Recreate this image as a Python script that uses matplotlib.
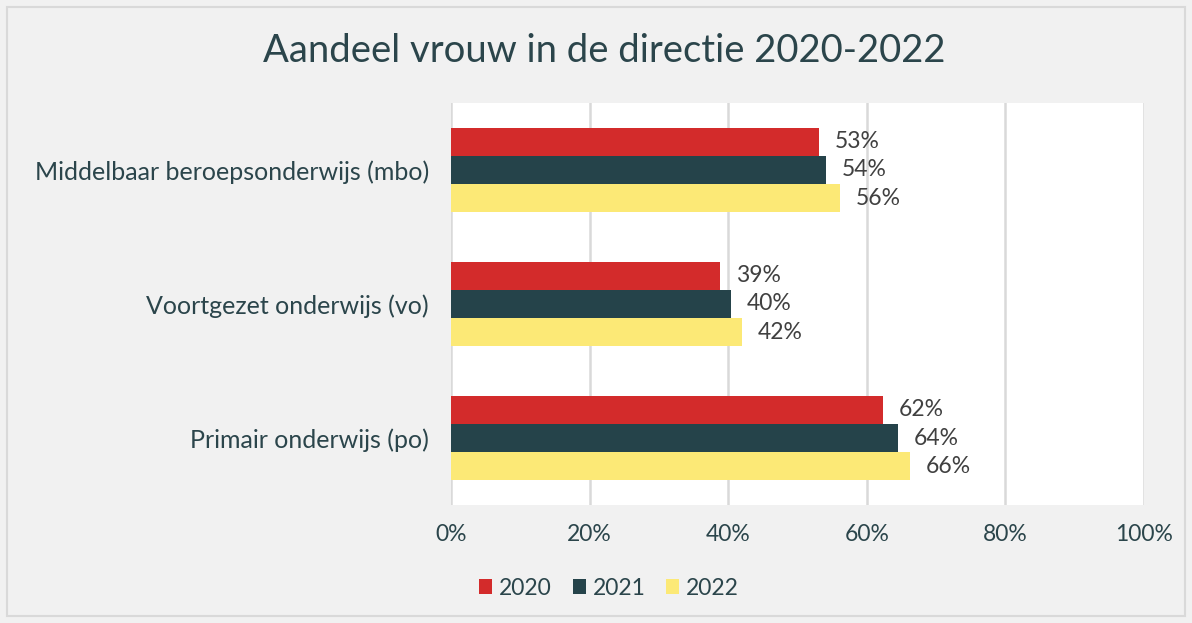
import numpy as np
import matplotlib
matplotlib.use("Agg")
import matplotlib.pyplot as plt
from matplotlib.patches import Rectangle

categories = ["Primair onderwijs (po)", "Voortgezet onderwijs (vo)",
              "Middelbaar beroepsonderwijs (mbo)"]
years = ["2020", "2021", "2022"]
v2020 = [62.3, 38.8, 53.1]
v2021 = [64.5, 40.4, 54.1]
v2022 = [66.2, 42.0, 56.1]
ticks = [0, 20, 40, 60, 80, 100]

colors = ["#d32b2b", "#25434a", "#fce976"]
text_col = "#2b454b"
label_col = "#404040"

plt.rcParams['font.family'] = ['Lato', 'DejaVu Sans']

fig = plt.figure(figsize=(11.92, 6.23), dpi=100, facecolor="#f1f1f1")
fig.patches.append(Rectangle((0.006, 0.011), 0.988, 0.978, transform=fig.transFigure,
                             fill=False, edgecolor="#d9d9d9", linewidth=1.5))
ax = fig.add_axes([0.3784, 0.1894, 0.5813, 0.6453])
ax.set_facecolor("white")

y = np.arange(len(categories))
h = 0.21
for vals, off, c, yr in zip([v2020, v2021, v2022], [h, 0, -h], colors, years):
    bars = ax.barh(y + off, vals, height=h, color=c, label=yr, zorder=3)
    for b, v in zip(bars, vals):
        ax.text(b.get_width() + 2.3, b.get_y() + h / 2, f"{round(v)}%",
                va="center", ha="left", fontsize=16.5, color=label_col)

ax.set_xlim(0, 100)
ax.set_ylim(-0.5, 2.5)
ax.set_xticks(ticks)
ax.set_xticklabels([f"{t}%" for t in ticks], fontsize=16.5, color=text_col)
ax.set_yticks(y)
ax.set_yticklabels(categories, fontsize=18, color=text_col)
ax.tick_params(length=0, pad=16)
ax.tick_params(axis="x", pad=14)
ax.grid(axis="x", color="#d9d9d9", linewidth=1.8, zorder=0)
for s in ax.spines.values():
    s.set_visible(False)

fig.text(0.507, 0.918, "Aandeel vrouw in de directie 2020-2022", ha="center",
         va="center", fontsize=27.5, color=text_col)

leg = fig.legend(loc="center", bbox_to_anchor=(0.511, 0.056), ncol=3, frameon=False,
                 fontsize=16.5, handlelength=0.57, handleheight=0.57, handletextpad=0.3,
                 columnspacing=0.9)
for t in leg.get_texts():
    t.set_color(text_col)

fig.savefig("out.png", dpi=100, facecolor=fig.get_facecolor())
